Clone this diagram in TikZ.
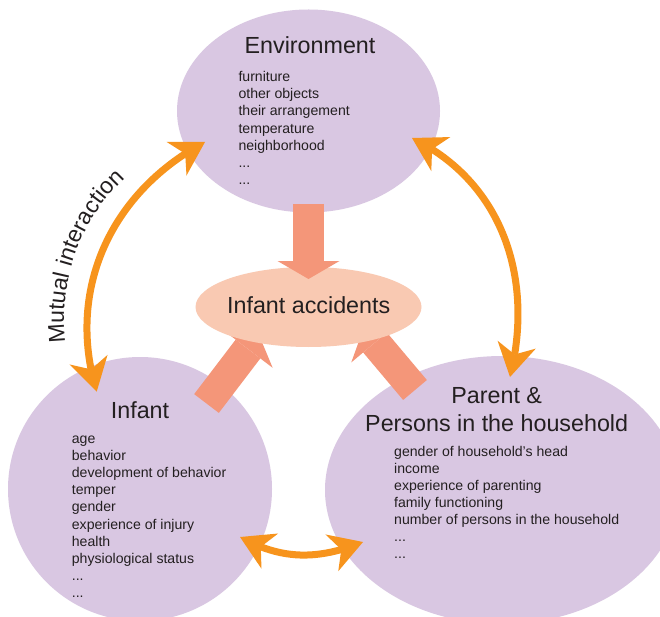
\documentclass[tikz,border=0pt]{standalone}
\usepackage{fontspec}
\setmainfont{Liberation Sans}
\usetikzlibrary{arrows.meta,bending,decorations.text,shapes.geometric}

\definecolor{lilac}{RGB}{217,199,226}
\definecolor{peach}{RGB}{249,201,178}
\definecolor{salmon}{RGB}{244,150,121}
\definecolor{amber}{RGB}{247,148,29}
\definecolor{ink}{RGB}{35,31,32}

\tikzset{
  blob/.style={ellipse, fill=lilac, draw=none, inner sep=0pt},
  focus/.style={ellipse, fill=peach, draw=none, inner sep=0pt},
  heading/.style={font=\fontsize{23.3}{28.3}\selectfont, text=ink, inner sep=0pt},
  factors/.style={font=\fontsize{14.1}{17.15}\selectfont, text=ink, inner sep=0pt, anchor=base west},
  push/.style={salmon, line width=31pt,
    -{Triangle[length=18pt,width=62pt,line width=0pt]}},
  mutual/.style={amber, line width=7pt,
    {Stealth[length=33pt,width=39pt,inset=10pt,line width=0pt]}-{Stealth[length=33pt,width=39pt,inset=10pt,line width=0pt]}},
}

\begin{document}
\begin{tikzpicture}[x=1pt,y=1pt]
  \useasboundingbox (0,0) rectangle (660,-617);
  \fill[white] (0,0) rectangle (660,-617);
  \clip (0,0) rectangle (660,-617);

  % the three groups of factors
  \node[blob, minimum width=263pt, minimum height=203pt] (env) at (308.5,-111) {};
  \node[blob, minimum width=264pt, minimum height=264pt] (infant) at (140,-489) {};
  \node[blob, minimum width=354pt, minimum height=268pt] (parent) at (502,-490) {};

  % influences of infant and household on accidents (behind the outcome)
  \coordinate (infOut) at (206.5,-403.5);
  \coordinate (accSW)  at (258.9,-334.7);
  \coordinate (parOut) at (415,-390);
  \coordinate (accSE)  at (363.4,-328.7);
  \draw[push] (infOut) -- (accSW);
  \draw[push] (parOut) -- (accSE);

  % outcome
  \node[focus, minimum width=226pt, minimum height=80pt] (acc) at (308.5,-307) {};
  \node[heading, anchor=base] (acctext) at (308.7,-313.3) {Infant accidents};

  % influence of environment on accidents
  \coordinate (envOut) at (308.5,-204);
  \coordinate (accN)   at (308.5,-279);
  \draw[push] (envOut) -- (accN);

  % titles and factor lists
  \node[heading, anchor=base] (envtitle) at (310,-54) {Environment};
  \node[factors] (envlist) at (238.3,-81.7) {\begin{tabular}[t]{@{}l@{}}
    furniture\\ other objects\\ their arrangement\\ temperature\\
    neighborhood\\ ...\\ ...\end{tabular}};

  \node[heading, anchor=base] (inftitle) at (140,-418.3) {Infant};
  \node[factors] (inflist) at (71.7,-443.3) {\begin{tabular}[t]{@{}l@{}}
    age\\ behavior\\ development of behavior\\ temper\\ gender\\
    experience of injury\\ health\\ physiological status\\ ...\\ ...\end{tabular}};

  \node[heading, anchor=base] (partitle) at (496.7,-403.3) {\begin{tabular}[t]{@{}c@{}}
    Parent \&\\ Persons in the household\end{tabular}};
  \node[factors] (parlist) at (394,-456) {\begin{tabular}[t]{@{}l@{}}
    gender of household's head\\ income\\ experience of parenting\\
    family functioning\\ number of persons in the household\\ ...\\ ...\end{tabular}};

  % mutual interactions between the groups
  \coordinate (mEnvL) at (205,-142);
  \coordinate (mInfT) at (96.7,-391.7);
  \coordinate (mEnvR) at (412,-138);
  \coordinate (mParT) at (510,-377);
  \coordinate (mInfR) at (240,-537);
  \coordinate (mParL) at (363,-542);
  \draw[mutual] (mInfT) to[out=107,in=208] (mEnvL);
  \draw[mutual] (mEnvR) to[out=-26,in=76] (mParT);
  \draw[mutual] (mInfR) to[out=-29,in=-158] (mParL);

  % label running along the left arc
  \path[decorate, decoration={text along path, text align=center,
      text={|\fontsize{23}{23}\selectfont\color{ink}|Mutual interaction}}]
    (65.5,-343.8) arc[start angle=187, end angle=133, radius=195];
\end{tikzpicture}
\end{document}
